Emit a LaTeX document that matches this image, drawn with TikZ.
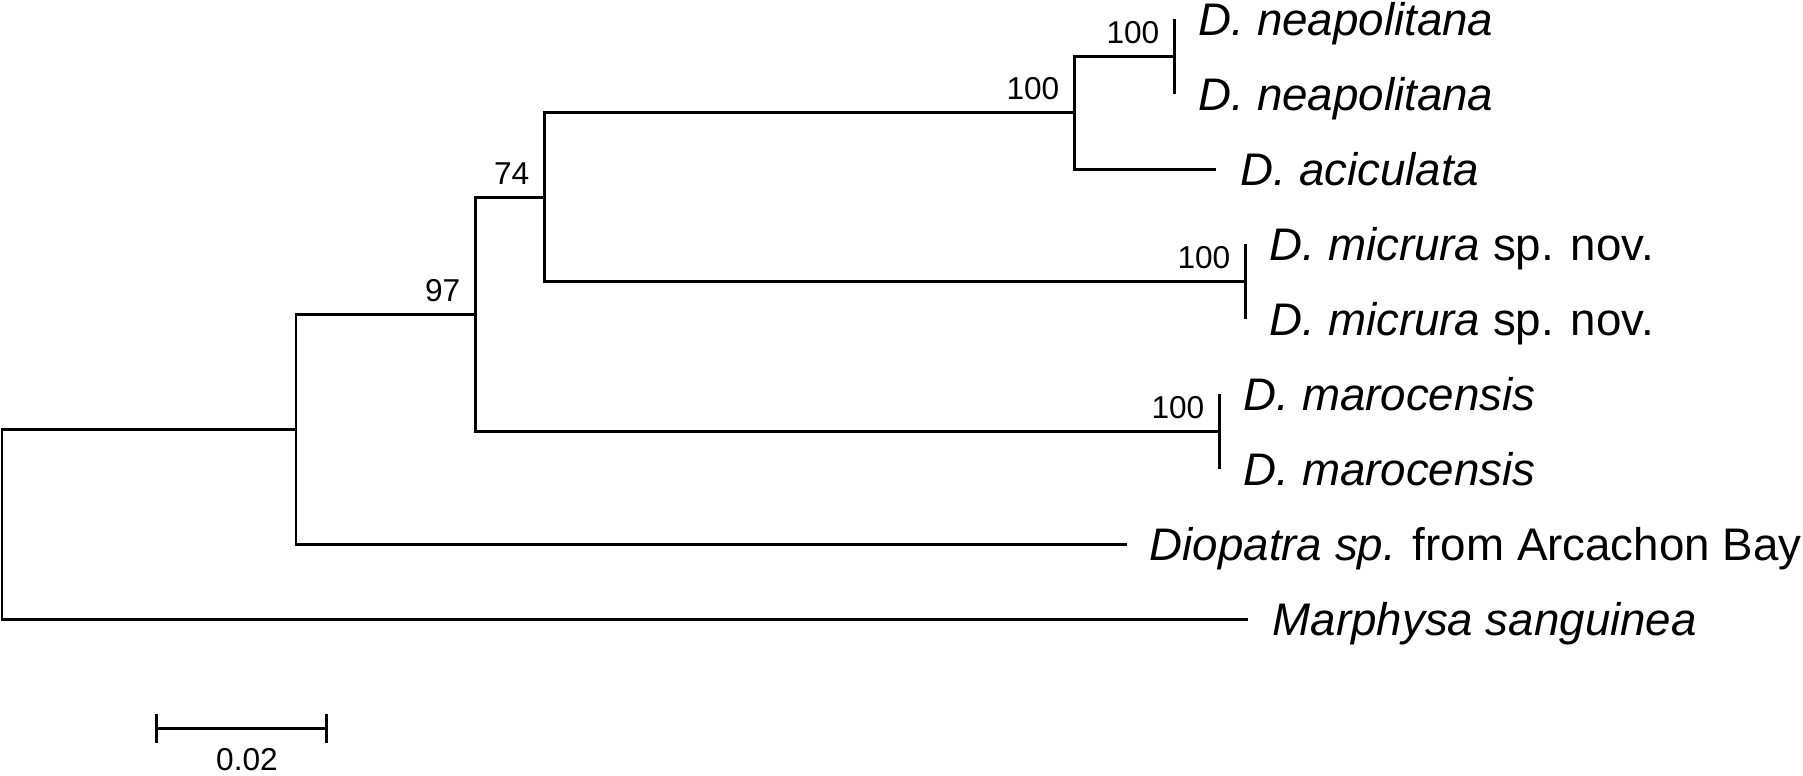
\documentclass[tikz,border=0pt]{standalone}
\usepackage{fontspec}
\setmainfont{Liberation Sans}
\usetikzlibrary{positioning,arrows.meta}

\begin{document}
\begin{tikzpicture}[x=0.1mm,y=-0.1mm,
    br/.style={line width=0.85pt},
    taxon/.style={font=\fontsize{13}{15}\selectfont,inner sep=0pt,
                  text height=9.4pt,text depth=0pt},
    bs/.style={font=\fontsize{9}{10}\selectfont,inner sep=0pt,
               anchor=south east,xshift=-1.4mm,yshift=1.2mm},
    sbar/.style={br,{Bar[width=2.9mm]}-{Bar[width=2.9mm]}}]
  \useasboundingbox (0,0) rectangle (1803,775);
  \coordinate (root) at (2,524);
  \coordinate (n1) at (296,429);
  \coordinate (n97) at (475,314);
  \coordinate (n74) at (544,197);
  \coordinate (n100) at (1074,112.75);
  \coordinate (tneap) at (1174,56.5);
  \coordinate (tmic) at (1245,281.5);
  \coordinate (tmar) at (1219,431.5);
  \coordinate (lneapA) at (1174,19);
  \coordinate (lneapB) at (1174,94);
  \coordinate (lacic) at (1216,169);
  \coordinate (lmicA) at (1245,244);
  \coordinate (lmicB) at (1245,319);
  \coordinate (lmarA) at (1219,394);
  \coordinate (lmarB) at (1219,469);
  \coordinate (ldiop) at (1127,544);
  \coordinate (lmarph) at (1248,619);
  \draw[br] (root) |- (n1); \draw[br] (root) |- (lmarph);
  \draw[br] (n1) |- (n97); \draw[br] (n1) |- (ldiop);
  \draw[br] (n97) |- (n74); \draw[br] (n97) |- (tmar);
  \draw[br] (n74) |- (n100); \draw[br] (n74) |- (tmic);
  \draw[br] (n100) |- (tneap); \draw[br] (n100) |- (lacic);
  \draw[br] (tneap) |- (lneapA); \draw[br] (tneap) |- (lneapB);
  \draw[br] (tmic) |- (lmicA); \draw[br] (tmic) |- (lmicB);
  \draw[br] (tmar) |- (lmarA); \draw[br] (tmar) |- (lmarB);
  \node[taxon,right=2.4mm of lneapA] (neapA) {\textit{D. neapolitana}};
  \node[taxon,right=2.4mm of lneapB] (neapB) {\textit{D. neapolitana}};
  \node[taxon,right=2.4mm of lacic] (acic) {\textit{D. aciculata}};
  \node[taxon,right=2.4mm of lmicA] (micA) {\textit{D. micrura} sp. nov.};
  \node[taxon,right=2.4mm of lmicB] (micB) {\textit{D. micrura} sp. nov.};
  \node[taxon,right=2.4mm of lmarA] (marA) {\textit{D. marocensis}};
  \node[taxon,right=2.4mm of lmarB] (marB) {\textit{D. marocensis}};
  \node[taxon,right=2.2mm of ldiop] (diop) {\textit{Diopatra sp.} from Arcachon Bay};
  \node[taxon,right=2.4mm of lmarph] (marph) {\textit{Marphysa sanguinea}};
  \node[bs] (bsneap) at (tneap) {100};
  \node[bs] (bs100) at (n100) {100};
  \node[bs] (bs74) at (n74) {74};
  \node[bs] (bs97) at (n97) {97};
  \node[bs] (bsmic) at (tmic) {100};
  \node[bs] (bsmar) at (tmar) {100};
  \coordinate (sbL) at (155,728);
  \coordinate (sbR) at (328,728);
  \draw[sbar] (sbL) -- (sbR);
  \node[font=\fontsize{9}{10}\selectfont,inner sep=0pt,anchor=north] (sblab) at (247,748) {0.02};
\end{tikzpicture}
\end{document}
